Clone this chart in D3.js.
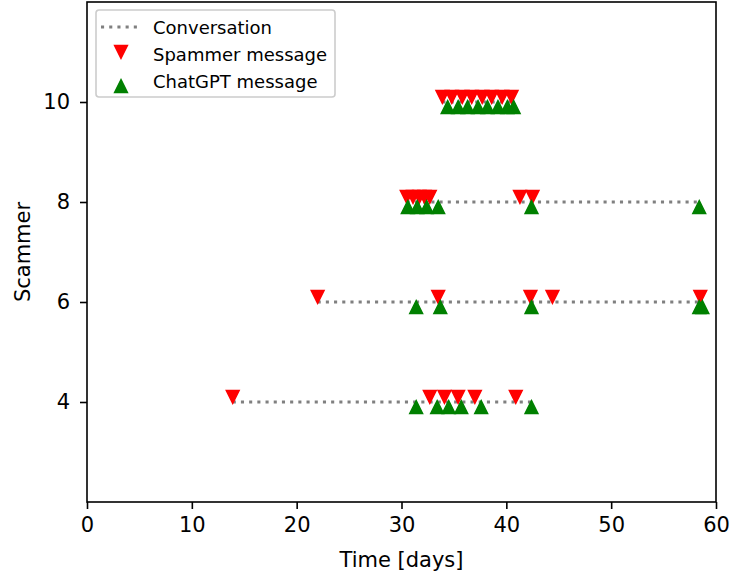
<!DOCTYPE html>
<html>
<head>
<meta charset="utf-8">
<script src="https://d3js.org/d3.v7.min.js"></script>
<style>
  body { margin: 0; background: #fff; }
  text { font-family: "DejaVu Sans", sans-serif; }
</style>
</head>
<body>
<div id="graph"></div>
<script>
// Scammer ids on the y axis
var scammers = [4, 6, 8, 10];

// Message times in days
var spamTimes = {
    4: [13.9, 32.7, 34.1, 35.4, 37.0, 40.9],
    6: [22.0, 33.5, 42.3, 44.4, 58.5],
    8: [30.5, 31.1, 31.7, 32.2, 32.7, 41.3, 42.5],
    10: [33.9, 34.8, 35.8, 36.7, 37.7, 38.6, 39.6, 40.5]
};
var gptTimes = {
    4: [31.4, 33.4, 34.5, 35.7, 37.6, 42.4],
    6: [31.4, 33.7, 42.4, 58.4, 58.7],
    8: [30.6, 31.5, 32.4, 33.5, 42.4, 58.4],
    10: [34.4, 35.4, 36.3, 37.3, 38.2, 39.2, 40.1, 40.7]
};

var xTicks = [0, 10, 20, 30, 40, 50, 60];
var yTicks = [4, 6, 8, 10];

// Set the dimensions of the canvas / graph
var margin = { top: 2, right: 14, bottom: 73, left: 87 },
    width = 730 - margin.left - margin.right,
    height = 575 - margin.top - margin.bottom;

var x = d3.scaleLinear().domain([0, 60]).range([0, width]);
var y = d3.scaleLinear().domain([2, 12]).range([height, 0]);

var svg = d3.select("#graph")
    .append("svg")
        .attr("width", 730)
        .attr("height", 575)
    .append("g")
        .attr("transform", "translate(" + margin.left + "," + margin.top + ")");

// matplotlib style triangle: as tall as it is wide, centred on its box
var tri = "M0,-6.4L6.4,6.4L-6.4,6.4Z";

// Conversation lines from first to last message
scammers.forEach(function(s) {
    var all = spamTimes[s].concat(gptTimes[s]);
    svg.append("line")
        .attr("x1", x(d3.min(all)))
        .attr("x2", x(d3.max(all)))
        .attr("y1", y(s))
        .attr("y2", y(s))
        .attr("stroke", "#808080")
        .attr("stroke-width", 3.1)
        .attr("stroke-dasharray", "3.1,5.1");
});

scammers.forEach(function(s) {
    svg.selectAll(null)
        .data(spamTimes[s])
        .enter().append("path")
        .attr("d", tri)
        .attr("fill", "red")
        .attr("stroke", "red")
        .attr("stroke-width", 1.5)
        .attr("transform", function(d) {
            return "translate(" + x(d) + "," + y(s + 0.1) + ") rotate(180)";
        });
    svg.selectAll(null)
        .data(gptTimes[s])
        .enter().append("path")
        .attr("d", tri)
        .attr("fill", "green")
        .attr("stroke", "green")
        .attr("stroke-width", 1.5)
        .attr("transform", function(d) {
            return "translate(" + x(d) + "," + y(s - 0.1) + ")";
        });
});

// Frame
svg.append("rect")
    .attr("width", width)
    .attr("height", height)
    .attr("fill", "none")
    .attr("stroke", "#000")
    .attr("stroke-width", 1.6);

// Axes
var xAxis = svg.append("g")
    .attr("transform", "translate(0," + height + ")")
    .call(d3.axisBottom(x).tickValues(xTicks).tickSize(7).tickPadding(8));
var yAxis = svg.append("g")
    .call(d3.axisLeft(y).tickValues(yTicks).tickSize(7).tickPadding(10));

[xAxis, yAxis].forEach(function(a) {
    a.select(".domain").remove();
    a.selectAll("line").attr("stroke", "#000").attr("stroke-width", 1.6);
    a.selectAll("text")
        .attr("font-size", 21)
        .attr("fill", "#000")
        .style("font-family", "DejaVu Sans");
});

svg.append("text")
    .attr("x", width / 2)
    .attr("y", height + 65)
    .attr("text-anchor", "middle")
    .attr("font-size", 21)
    .text("Time [days]");

svg.append("text")
    .attr("transform", "translate(" + (-57) + "," + (height / 2) + ") rotate(-90)")
    .attr("text-anchor", "middle")
    .attr("font-size", 21)
    .text("Scammer");

// Legend
var legend = svg.append("g").attr("transform", "translate(9,8)");
legend.append("rect")
    .attr("width", 239)
    .attr("height", 87)
    .attr("rx", 3)
    .attr("fill", "#fff")
    .attr("fill-opacity", 0.8)
    .attr("stroke", "#ccc")
    .attr("stroke-width", 1.6);
legend.append("line")
    .attr("x1", 5).attr("x2", 41)
    .attr("y1", 17).attr("y2", 17)
    .attr("stroke", "#808080")
    .attr("stroke-width", 3.1)
    .attr("stroke-dasharray", "3.1,5.1");
legend.append("path")
    .attr("d", tri).attr("fill", "red").attr("stroke", "red").attr("stroke-width", 1.5)
    .attr("transform", "translate(25,42) rotate(180)");
legend.append("path")
    .attr("d", tri).attr("fill", "green").attr("stroke", "green").attr("stroke-width", 1.5)
    .attr("transform", "translate(25,76)");
var labels = ["Conversation", "Spammer message", "ChatGPT message"];
legend.selectAll(null)
    .data(labels)
    .enter().append("text")
    .attr("x", 57)
    .attr("y", function(d, i) { return 24 + i * 27; })
    .attr("font-size", 18)
    .text(function(d) { return d; });
</script>
</body>
</html>
